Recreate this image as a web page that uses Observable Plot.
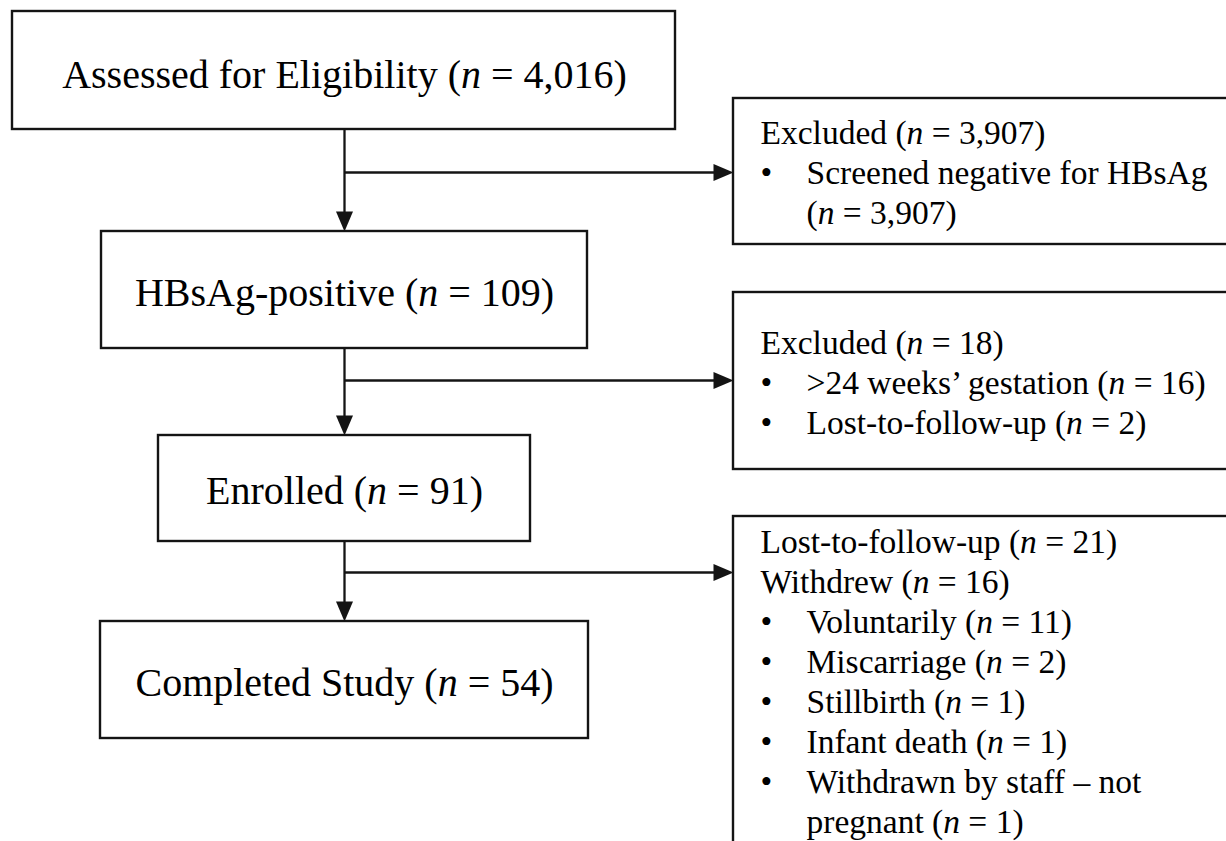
<!DOCTYPE html>
<html>
<head>
<meta charset="utf-8">
<script src="https://cdn.jsdelivr.net/npm/d3@7"></script>
<script src="https://cdn.jsdelivr.net/npm/@observablehq/plot@0.6"></script>
<style>
  html, body { margin: 0; padding: 0; background: #fff; overflow: hidden; }
</style>
</head>
<body>
<script>
// ---------------- data ----------------
const stageLabels = ["Assessed for Eligibility", "HBsAg-positive", "Enrolled", "Completed Study"];
const stageCounts = ["4,016", "109", "91", "54"];

// side boxes: level 0 = heading, 1 = bulleted item, 2 = continuation of an item
const excludedAtScreening = [
  [0, "Excluded (n = 3,907)"],
  [1, "Screened negative for HBsAg"],
  [2, "(n = 3,907)"]
];
const excludedBeforeEnrolment = [
  [0, "Excluded (n = 18)"],
  [1, ">24 weeks’ gestation (n = 16)"],
  [1, "Lost-to-follow-up (n = 2)"]
];
const notCompleted = [
  [0, "Lost-to-follow-up (n = 21)"],
  [0, "Withdrew (n = 16)"],
  [1, "Voluntarily (n = 11)"],
  [1, "Miscarriage (n = 2)"],
  [1, "Stillbirth (n = 1)"],
  [1, "Infant death (n = 1)"],
  [1, "Withdrawn by staff – not"],
  [2, "pregnant (n = 1)"]
];
const sideLists = [excludedAtScreening, excludedBeforeEnrolment, notCompleted];

// ---------------- layout ----------------
const W = 1226, H = 841;
const spineX = 344;
const mainFont = 40, sideFont = 33.5, sideLineStep = 40;
const sideTextX = 760, sideIndentX = 806;
const headLen = 20, headHalf = 8.5;
const mainBoxes = [
  {x1: 12,  x2: 675, y1: 11,  y2: 129, base: 87},
  {x1: 101, x2: 587, y1: 231, y2: 348, base: 305},
  {x1: 158, x2: 530, y1: 435, y2: 541, base: 503},
  {x1: 100, x2: 588, y1: 621, y2: 738, base: 695}
];
const sideBoxes = [
  {x1: 733, x2: 1240, y1: 98,  y2: 244, branchY: 172, first: 143},
  {x1: 733, x2: 1240, y1: 292, y2: 469, branchY: 380, first: 353},
  {x1: 733, x2: 1240, y1: 516, y2: 870, branchY: 572, first: 552}
];

// ---------------- derived tables ----------------
const mainText = stageLabels.map((l, i) => ({
  text: `${l} (n = ${stageCounts[i]})`, x: spineX, y: mainBoxes[i].base
}));
const sideText = [], bullets = [];
sideLists.forEach((list, j) => {
  list.forEach(([level, text], k) => {
    const y = sideBoxes[j].first + k * sideLineStep;
    sideText.push({text, x: level === 0 ? sideTextX : sideIndentX, y});
    if (level === 1) bullets.push({text: "•", x: sideTextX, y});
  });
});
const downLinks = mainBoxes.slice(0, -1).map((b, i) => ({
  x1: spineX, y1: b.y2, x2: spineX, y2: mainBoxes[i + 1].y1 - headLen + 2
}));
const downHeads = mainBoxes.slice(1).map(b => ({x: spineX, y: b.y1}));
const branchLinks = sideBoxes.map(s => ({
  x1: spineX, y1: s.branchY, x2: s.x1 - headLen + 2, y2: s.branchY
}));
const rightHeads = sideBoxes.map(s => ({x: s.x1, y: s.branchY}));

// filled arrow head, tip at origin, pointing down (+y)
const arrowHead = {
  draw(ctx) {
    ctx.moveTo(0, 0);
    ctx.lineTo(-headHalf, -headLen);
    ctx.lineTo(headHalf, -headLen);
    ctx.closePath();
  }
};

const ink = "#141414";
const serif = "'Liberation Serif', 'Times New Roman', Times, serif";
const plot = Plot.plot({
  width: W,
  height: H,
  margin: 0,
  x: {domain: [0, W], range: [0, W], axis: null},
  y: {domain: [0, H], range: [0, H], axis: null},
  style: {background: "#fff"},
  marks: [
    Plot.link(downLinks, {x1: "x1", y1: "y1", x2: "x2", y2: "y2", stroke: ink, strokeWidth: 2.3}),
    Plot.link(branchLinks, {x1: "x1", y1: "y1", x2: "x2", y2: "y2", stroke: ink, strokeWidth: 2.3}),
    Plot.rect(mainBoxes, {x1: "x1", x2: "x2", y1: "y1", y2: "y2", fill: "#fff", stroke: ink, strokeWidth: 2.4}),
    Plot.rect(sideBoxes, {x1: "x1", x2: "x2", y1: "y1", y2: "y2", fill: "#fff", stroke: ink, strokeWidth: 2.4}),
    Plot.dot(downHeads, {x: "x", y: "y", symbol: arrowHead, r: 10, fill: ink, stroke: "none"}),
    Plot.dot(rightHeads, {x: "x", y: "y", symbol: arrowHead, r: 10, rotate: -90, fill: ink, stroke: "none"}),
    Plot.text(mainText, {x: "x", y: "y", text: "text", textAnchor: "middle", lineAnchor: "bottom",
      fontSize: mainFont, fontFamily: serif, fill: "#000"}),
    Plot.text(sideText, {x: "x", y: "y", text: "text", textAnchor: "start", lineAnchor: "bottom",
      fontSize: sideFont, fontFamily: serif, fill: "#000"}),
    Plot.text(bullets, {x: "x", y: "y", text: "text", textAnchor: "start", lineAnchor: "bottom",
      fontSize: sideFont, fontFamily: serif, fill: "#000"})
  ]
});

// italicise the statistical "n"
plot.querySelectorAll("text").forEach(t => {
  const s = t.textContent;
  const i = s.indexOf("(n =");
  if (i < 0) return;
  t.textContent = "";
  t.append(document.createTextNode(s.slice(0, i + 1)));
  const ts = document.createElementNS("http://www.w3.org/2000/svg", "tspan");
  ts.setAttribute("font-style", "italic");
  ts.textContent = "n";
  t.append(ts);
  t.append(document.createTextNode(s.slice(i + 2)));
});

document.body.append(plot);
</script>
</body>
</html>
